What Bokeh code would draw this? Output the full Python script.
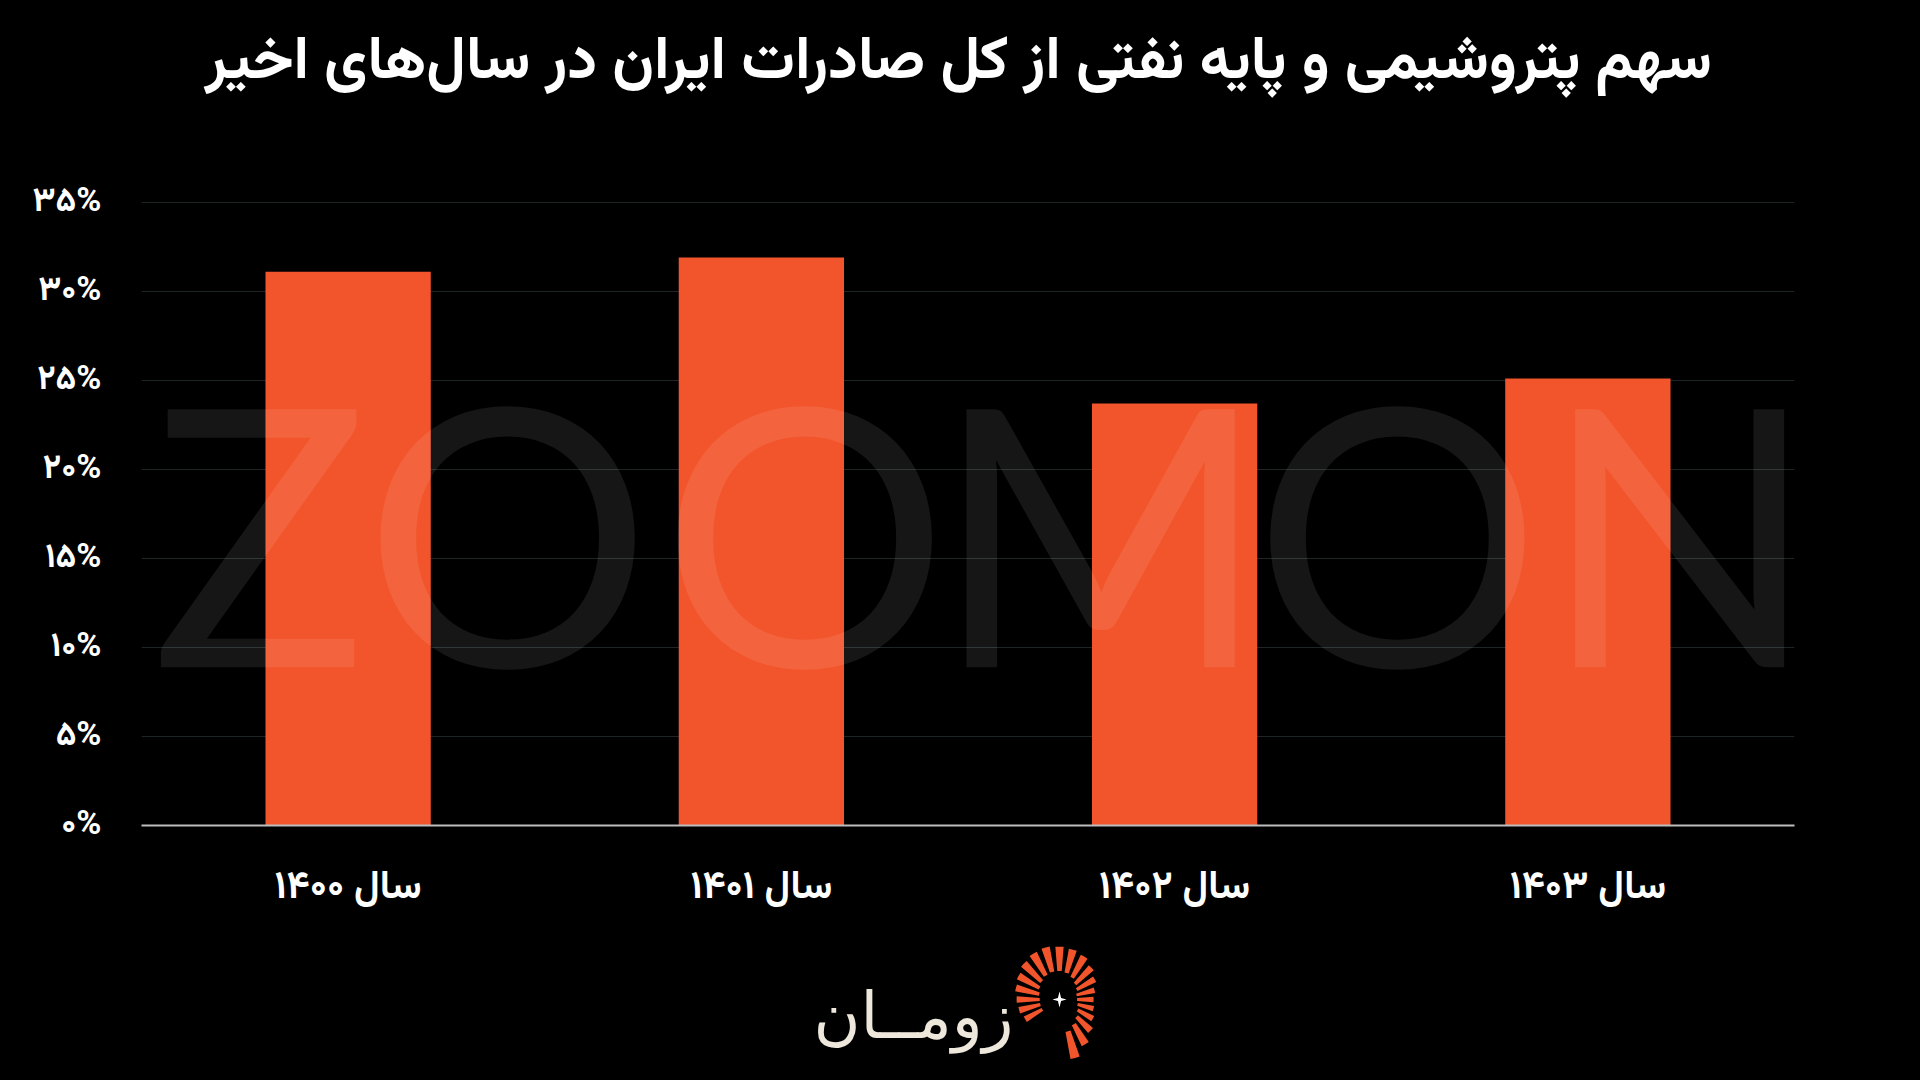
from bokeh.plotting import figure
from bokeh.models import FactorRange, Range1d, FixedTicker
from bokeh.layouts import column
from bokeh.core.properties import value
from bokeh.embed import file_html
from bokeh.resources import INLINE
import math

# ---------------- data ----------------
title_text = "سهم پتروشیمی و پایه نفتی از کل صادرات ایران در سال‌های اخیر"
years = ["سال ۱۴۰۰", "سال ۱۴۰۱", "سال ۱۴۰۲", "سال ۱۴۰۳"]
shares = [31.1, 31.9, 23.7, 25.1]
y_ticks = [0, 5, 10, 15, 20, 25, 30, 35]
y_tick_labels = ["۰%", "۵%", "۱۰%", "۱۵%", "۲۰%", "۲۵%", "۳۰%", "۳۵%"]

# watermark letters (decoration)
wm_letters = ["Z", "O", "O", "M", "O", "N"]
wm_x = [0.286, 0.886, 1.605, 2.321, 3.039, 3.722]

# logo rays (decoration)
ray_angles = [210, 195, 180, 165, 150, 135, 120, 105, 90, 75, 60, 45, 30, 15, 0, -15, -30, -45, -60, -75]
ray_inner = [18, 18, 18, 19, 21, 23, 25, 26, 26, 25, 23, 20, 18, 16, 16, 17, 19, 22, 26, 30]
ray_outer = [36, 38, 39, 41, 43, 46, 48, 49, 48, 47, 45, 41, 37, 33, 31, 32, 35, 40, 47, 55]

FONT = "Vazirmatn, Noto Sans Arabic, DejaVu Sans"
BAR = "#F2552C"
W = 1920
H0 = 130
H1 = 938 - H0
H2 = 1080 - H0 - H1
BL, BR = 141, 126
BG = {"background-color": "#000000"}


def blank(h):
    f = figure(x_range=Range1d(BL, W - BR), y_range=Range1d(0, h), width=W, height=h,
               output_backend="svg", toolbar_location=None,
               min_border_left=BL, min_border_right=BR, min_border_top=0, min_border_bottom=0,
               background_fill_color="black", border_fill_color="black", outline_line_color=None,
               styles=BG)
    f.axis.visible = False
    f.grid.visible = False
    return f


# ---------------- header (title) ----------------
hd = blank(H0)
hd.text(x=[958], y=[H0 - 62], text=[title_text], text_font=value(FONT), text_font_size="60px",
        text_font_style="bold", text_align="center", text_baseline="middle", text_color="white")

# ---------------- chart ----------------
p = figure(x_range=FactorRange(*years, range_padding=0), y_range=Range1d(0, 35.1),
           width=W, height=H1, output_backend="svg", toolbar_location=None,
           min_border_left=BL, min_border_right=BR, min_border_top=200 - H0, min_border_bottom=113,
           background_fill_color="black", border_fill_color="black", outline_line_color=None,
           styles=BG)

p.vbar(x=years, top=shares, width=0.4, color=BAR, line_color=None)

# watermark
p.text(x=wm_x, y=[16.7] * len(wm_x), text=wm_letters, text_font=value("Lato"),
       text_font_size="360px", text_align="center", text_baseline="alphabetic",
       text_color="white", text_alpha=0.085)

p.yaxis.ticker = FixedTicker(ticks=y_ticks)
p.yaxis.major_label_overrides = {t: l for t, l in zip(y_ticks, y_tick_labels)}
p.yaxis.axis_line_color = None
p.yaxis.major_tick_line_color = None
p.yaxis.minor_tick_line_color = None
p.yaxis.major_tick_out = 0
p.yaxis.major_label_standoff = 40
p.yaxis.major_label_text_color = "white"
p.yaxis.major_label_text_font = FONT
p.yaxis.major_label_text_font_size = "34px"
p.yaxis.major_label_text_font_style = "bold"

p.xaxis.axis_line_color = "#bdbdbd"
p.xaxis.axis_line_width = 2
p.xaxis.major_tick_line_color = None
p.xaxis.minor_tick_line_color = None
p.xaxis.major_tick_out = 0
p.xaxis.major_label_standoff = 32
p.xaxis.major_label_text_color = "white"
p.xaxis.major_label_text_font = FONT
p.xaxis.major_label_text_font_size = "39px"
p.xaxis.major_label_text_font_style = "bold"

p.xgrid.grid_line_color = None
p.ygrid.grid_line_color = "#1f2527"
p.ygrid.grid_line_width = 1

# ---------------- logo ----------------
lg = blank(H2)
cx, cy = 1059, H2 - 61
half = 4.5
sc = 1.1
lg.annular_wedge(x=[cx] * len(ray_angles), y=[cy] * len(ray_angles),
                 inner_radius=[r * sc for r in ray_inner], outer_radius=[r * sc for r in ray_outer],
                 start_angle=[math.radians(a - half) for a in ray_angles],
                 end_angle=[math.radians(a + half) for a in ray_angles],
                 color=BAR, line_color=None)
sx = [cx, cx + 1.6, cx + 7, cx + 1.6, cx, cx - 1.6, cx - 7, cx - 1.6]
sy = [cy + 8, cy + 1.6, cy, cy - 1.6, cy - 8, cy - 1.6, cy, cy + 1.6]
lg.patch(sx, sy, color="white", line_color=None)
lg.text(x=[1013], y=[H2 - 77], text=["زومــان"], text_font=value("DejaVu Sans"), text_font_size="64px",
        text_align="right", text_baseline="alphabetic", text_color="#EEE8DC")

layout = column(hd, p, lg, spacing=0, styles=BG)
html = file_html(layout, INLINE)
html = html.replace("</head>", "<style>html, body { background: #000000; }</style></head>", 1)
open("out.html", "w").write(html)
